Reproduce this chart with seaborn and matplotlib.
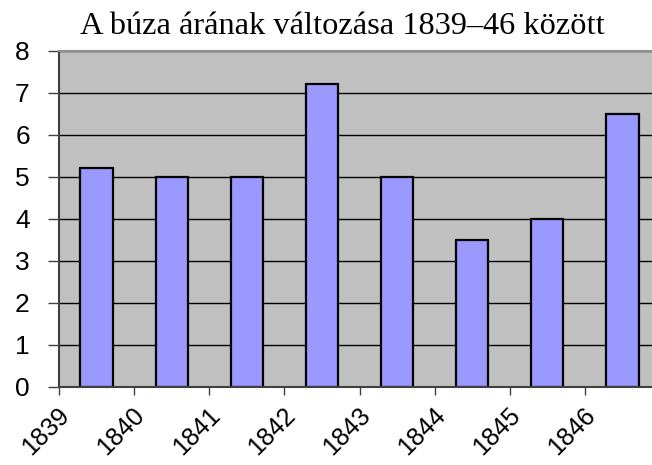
import matplotlib
matplotlib.use("Agg")
import matplotlib.pyplot as plt
import matplotlib.transforms as mtransforms
import seaborn as sns
import pandas as pd

years = ["1839", "1840", "1841", "1842", "1843", "1844", "1845", "1846"]
prices = [5.2, 5.0, 5.0, 7.2, 5.0, 3.5, 4.0, 6.5]
title = "A búza árának változása 1839–46 között"

df = pd.DataFrame({"year": years, "price": prices})

sns.set_style("white")
fig = plt.figure(figsize=(6.52, 4.65), dpi=100)
ax = fig.add_axes([59/652, 1-386.7/465, (660-59)/652, (386.7-50.7)/465])
ax.set_facecolor("#C0C0C0")

ax.set_axisbelow(True)
ax.yaxis.grid(True, color="black", linewidth=1.0)
ax.xaxis.grid(False)

sns.barplot(data=df, x="year", y="price", order=years, color="#9999FF",
            saturation=1, width=0.43, edgecolor="black", linewidth=1.6, ax=ax)

ax.set_ylim(0, 8)
ax.set_xlim(-0.5, len(years) - 0.5)
ax.set_yticks(range(0, 9))
ax.set_yticklabels([str(i) for i in range(0, 9)], fontsize=19,
                   family="Liberation Sans", color="black")
ax.set_xticks([i - 0.5 for i in range(len(years))])
ax.set_xticklabels(years, rotation=45, ha="right", va="center",
                   rotation_mode="anchor", fontsize=18, family="Liberation Sans",
                   color="black")
ax.tick_params(axis="y", which="both", left=True, length=8, width=1,
               color="#404040", pad=13)
ax.tick_params(axis="x", which="both", bottom=True, length=6, width=1,
               color="#404040", pad=12)
off = mtransforms.ScaledTranslation(7/100, 0, fig.dpi_scale_trans)
for lab in ax.get_xticklabels():
    lab.set_transform(lab.get_transform() + off)
ax.set_xlabel("")
ax.set_ylabel("")

for s in ["left", "bottom"]:
    ax.spines[s].set_color("#404040")
    ax.spines[s].set_linewidth(1.5)
ax.spines["top"].set_color("#909090")
ax.spines["top"].set_linewidth(1.5)
ax.spines["right"].set_visible(False)

fig.text(0.5 + 16/652, 1 - 26/465, title, ha="center", va="center",
         fontsize=23.3, family="Liberation Serif", color="black")

fig.savefig("out.png", dpi=100)
